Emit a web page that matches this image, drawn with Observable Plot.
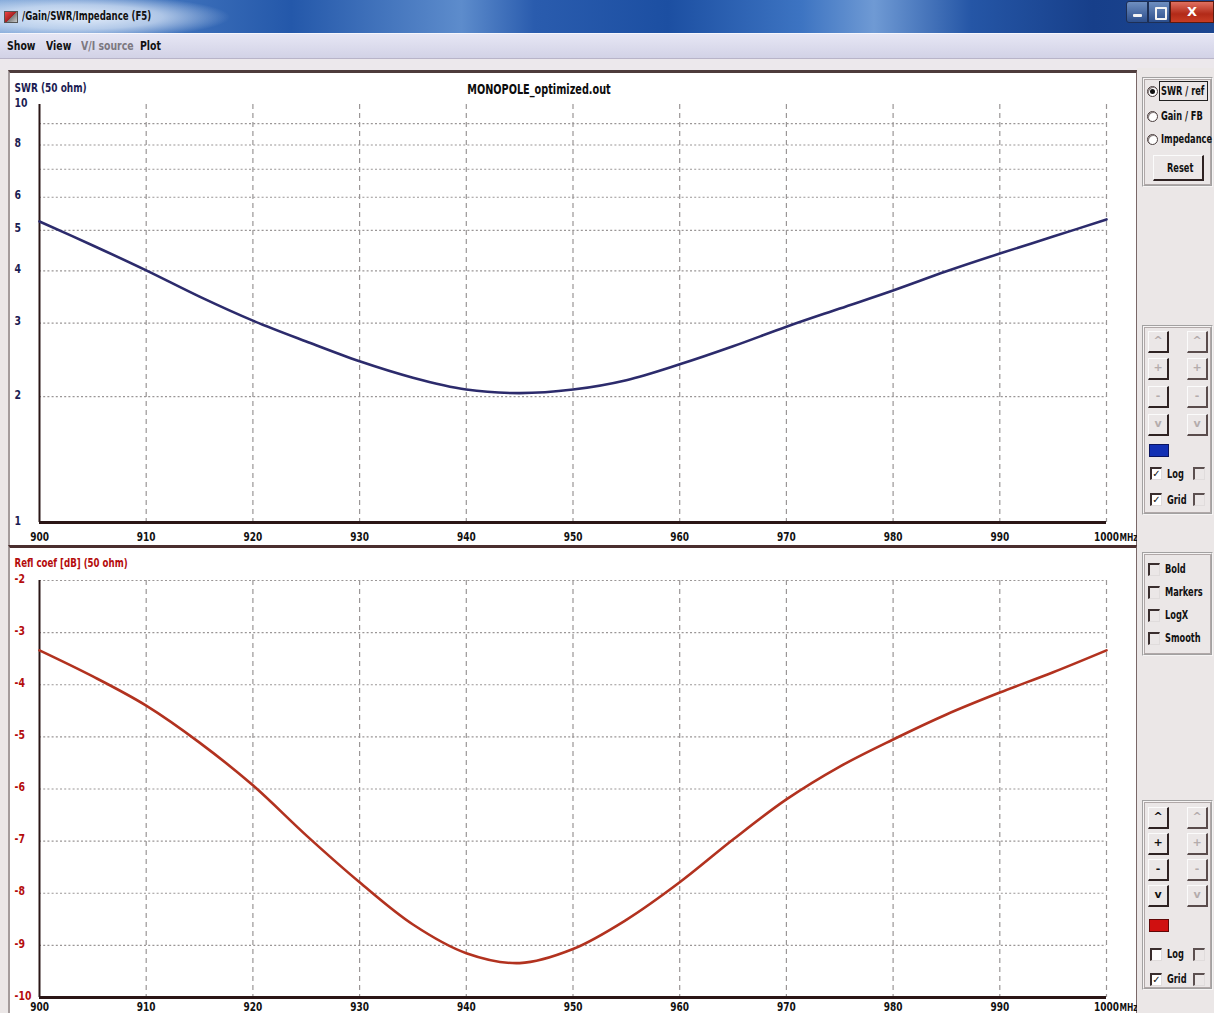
<!DOCTYPE html>
<html>
<head>
<meta charset="utf-8">
<script src="https://cdn.jsdelivr.net/npm/d3@7"></script>
<script src="https://cdn.jsdelivr.net/npm/@observablehq/plot@0.6"></script>
<style>
  * { box-sizing: border-box; }
  html, body { margin: 0; padding: 0; }
  body {
    width: 1214px; height: 1013px; overflow: hidden; position: relative;
    background: #ebe7e7;
    font-family: "DejaVu Sans", "Liberation Sans", sans-serif;
    font-weight: bold; font-size: 13px; color: #111;
  }
  .abs { position: absolute; }
  .nar { position: absolute; white-space: nowrap; transform: scaleX(0.72); transform-origin: 0 50%; }
  #side .nar { font-size: 12.5px; transform: scaleX(0.66); }
  #titlebar {
    left: 0; top: 0; width: 1214px; height: 33px;
    background:
      radial-gradient(ellipse 150px 22px at 80px 17px, rgba(235,242,252,0.95) 0%, rgba(220,232,248,0.7) 55%, rgba(200,220,245,0) 100%),
      linear-gradient(90deg, #7fa6d8 0%, #3f72bc 14%, #2458aa 24%, #5d8ccc 38%, #2a5cae 44%, #1c4fa2 55%, #3d74c2 66%, #6f9ad4 72%, #2556a6 80%, #173f8a 90%, #1c4690 100%);
  }
  #titlebar .icon {
    left: 4px; top: 11px; width: 14px; height: 12px;
    background: linear-gradient(135deg, #e44 0%, #a22 50%, #777 51%, #ccc 100%);
    border: 1px solid #555;
  }
  .winbtn { top: 1px; height: 22px; }
  #btnmin { left: 1126px; width: 22px; background: linear-gradient(#6f8fc0, #2c4e8c); border: 1px solid #1d2f55; border-radius: 3px 0 0 3px; }
  #btnmax { left: 1148px; width: 22px; background: linear-gradient(#6f8fc0, #2c4e8c); border: 1px solid #1d2f55; }
  #btnclose { left: 1170px; width: 44px; background: linear-gradient(#e07060, #b22a18 60%, #c83c24); border: 1px solid #5a1a10; color: #fff; text-align: center; font-size: 13px; line-height: 20px; }
  #btnmin::after { content: ""; position: absolute; left: 6px; top: 12px; width: 9px; height: 3px; background: #f4f4f4; border-radius: 1px; }
  #btnmax::after { content: ""; position: absolute; left: 6px; top: 5px; width: 8px; height: 9px; border: 2px solid #f4f4f4; border-radius: 1px; }
  #menubar {
    left: 0; top: 33px; width: 1214px; height: 26px;
    background: linear-gradient(#e6e6f4, #d2d2e6);
    border-top: 1px solid #f6f6fc; border-bottom: 1px solid #b8b4c8;
  }
  #gap { left: 0; top: 59px; width: 1214px; height: 11px; background: #ece8ec; }
  .chartpanel { background: #ffffff; }
  #toppanel { left: 8px; top: 70px; width: 1129px; height: 477px; border-top: 3px solid #4e3c3c; border-left: 2px solid #a49c9c; border-right: 1px solid #7a6868; }
  #botpanel { left: 8px; top: 545px; width: 1129px; height: 480px; border-top: 3px solid #4a2e2e; border-left: 2px solid #a49c9c; border-right: 1px solid #7a6868; }
  #side { left: 1137px; top: 68px; width: 77px; height: 945px; background: #ebe7e7; }
  .group { position: absolute; border: 2px groove #f6f4f4; box-shadow: inset 0 0 0 1px #b0a8a8; }
  .btn {
    position: absolute; width: 21px; height: 22px; background: #ebe7e7;
    border-top: 1px solid #fbfbfb; border-left: 1px solid #fbfbfb;
    border-right: 2px solid #2e2222; border-bottom: 2px solid #2e2222;
    text-align: center; line-height: 18px; font-size: 11px; color: #b4acac;
  }
  .btn.on { color: #101010; }
  .btn.faint { border-right-color: #5a4c4c; border-bottom-color: #5a4c4c; }
  .chk {
    position: absolute; width: 12px; height: 13px; background: #ffffff;
    border-top: 2px solid #3a2e2e; border-left: 2px solid #3a2e2e;
    border-right: 1px solid #e0dcdc; border-bottom: 1px solid #e0dcdc;
    font-family: "DejaVu Sans", sans-serif; font-size: 10px; line-height: 10px; text-align: center; color: #111;
  }
  .chk.dim { background: #ebe7e7; border-top-color: #5c5050; border-left-color: #5c5050; }
  .radio {
    position: absolute; width: 11px; height: 11px; border-radius: 50%;
    background: #fff; border: 1px solid #4a3e3e; box-shadow: inset 1px 1px 0 #8a8080;
  }
  .radio.sel::after { content: ""; position: absolute; left: 2px; top: 2px; width: 5px; height: 5px; border-radius: 50%; background: #111; }
  .chart { position: absolute; }
</style>
</head>
<body>

<div id="titlebar" class="abs">
  <div class="icon abs"></div>
  <div class="nar" style="left:22px;top:8px;font-size:13px;color:#101010;transform:scaleX(0.66)">/Gain/SWR/Impedance (F5)</div>
  <div id="btnmin" class="abs winbtn"></div>
  <div id="btnmax" class="abs winbtn"></div>
  <div id="btnclose" class="abs winbtn">X</div>
</div>
<div id="menubar" class="abs">
  <div class="nar" style="left:7px;top:4px">Show</div>
  <div class="nar" style="left:46px;top:4px">View</div>
  <div class="nar" style="left:81px;top:4px;color:#7c7880">V/I source</div>
  <div class="nar" style="left:140px;top:4px">Plot</div>
</div>
<div id="gap" class="abs"></div>

<div id="toppanel" class="abs chartpanel"></div>
<div id="botpanel" class="abs chartpanel"></div>
<div id="topchart" class="chart" style="left:9px;top:72px"></div>
<div id="botchart" class="chart" style="left:9px;top:549px"></div>

<div id="side" class="abs">
  <!-- plot type selector -->
  <div class="group" style="left:5px;top:9px;width:71px;height:110px"></div>
  <div class="radio sel" style="left:10px;top:18px"></div>
  <div class="abs" style="left:22px;top:13px;width:49px;height:20px;border:1px solid #222"></div>
  <div class="nar" style="left:24px;top:15px">SWR / ref</div>
  <div class="radio" style="left:10px;top:43px"></div>
  <div class="nar" style="left:24px;top:40px">Gain / FB</div>
  <div class="radio" style="left:10px;top:66px"></div>
  <div class="nar" style="left:24px;top:63px">Impedance</div>
  <div class="btn" style="left:16px;top:87px;width:51px;height:26px"></div>
  <div class="nar" style="left:30px;top:92px">Reset</div>

  <!-- upper chart scale controls -->
  <div class="group" style="left:5px;top:257px;width:71px;height:190px"></div>
  <div class="btn" style="left:11px;top:263px">^</div>
  <div class="btn faint" style="left:50px;top:263px">^</div>
  <div class="btn" style="left:11px;top:290px">+</div>
  <div class="btn faint" style="left:50px;top:290px">+</div>
  <div class="btn" style="left:11px;top:318px">-</div>
  <div class="btn faint" style="left:50px;top:318px">-</div>
  <div class="btn" style="left:11px;top:346px">v</div>
  <div class="btn faint" style="left:50px;top:346px">v</div>
  <div class="abs" style="left:12px;top:376px;width:20px;height:13px;background:#1230b4;border:1px solid #0a1460"></div>
  <div class="chk" style="left:13px;top:399px">✓</div>
  <div class="nar" style="left:30px;top:398px">Log</div>
  <div class="chk dim" style="left:56px;top:399px"></div>
  <div class="chk" style="left:13px;top:425px">✓</div>
  <div class="nar" style="left:30px;top:424px">Grid</div>
  <div class="chk dim" style="left:56px;top:425px"></div>

  <!-- line options -->
  <div class="group" style="left:5px;top:484px;width:71px;height:104px"></div>
  <div class="chk" style="left:11px;top:495px;background:#ebe7e7"></div>
  <div class="nar" style="left:28px;top:493px">Bold</div>
  <div class="chk" style="left:11px;top:518px;background:#ebe7e7"></div>
  <div class="nar" style="left:28px;top:516px">Markers</div>
  <div class="chk" style="left:11px;top:541px;background:#ebe7e7"></div>
  <div class="nar" style="left:28px;top:539px">LogX</div>
  <div class="chk" style="left:11px;top:564px;background:#ebe7e7"></div>
  <div class="nar" style="left:28px;top:562px">Smooth</div>

  <!-- lower chart scale controls -->
  <div class="group" style="left:5px;top:732px;width:71px;height:190px"></div>
  <div class="btn on" style="left:11px;top:739px">^</div>
  <div class="btn faint" style="left:50px;top:739px">^</div>
  <div class="btn on" style="left:11px;top:765px">+</div>
  <div class="btn faint" style="left:50px;top:765px">+</div>
  <div class="btn on" style="left:11px;top:791px">-</div>
  <div class="btn faint" style="left:50px;top:791px">-</div>
  <div class="btn on" style="left:11px;top:817px">v</div>
  <div class="btn faint" style="left:50px;top:817px">v</div>
  <div class="abs" style="left:12px;top:851px;width:20px;height:13px;background:#d01010;border:1px solid #600808"></div>
  <div class="chk" style="left:13px;top:880px"></div>
  <div class="nar" style="left:30px;top:878px">Log</div>
  <div class="chk dim" style="left:56px;top:880px"></div>
  <div class="chk" style="left:13px;top:905px">✓</div>
  <div class="nar" style="left:30px;top:903px">Grid</div>
  <div class="chk dim" style="left:56px;top:905px"></div>
</div>

<script>
// Frequency sweep (MHz) and the two computed responses
const freqMHz = [900, 905, 910, 915, 920, 925, 930, 935, 940, 945, 950,
                 955, 960, 965, 970, 975, 980, 985, 990, 995, 1000];
const swrValues = [5.25, 4.60, 4.01, 3.47, 3.04, 2.71, 2.43, 2.22, 2.08, 2.04, 2.08,
                   2.19, 2.39, 2.64, 2.94, 3.25, 3.59, 3.99, 4.40, 4.83, 5.31];
const reflDb = [-3.34, -3.84, -4.40, -5.11, -5.93, -6.89, -7.79, -8.60, -9.15, -9.34, -9.07,
                -8.51, -7.79, -6.97, -6.20, -5.57, -5.05, -4.57, -4.15, -3.76, -3.34];

// Axis ticks and grid levels
const freqTicks = [900, 910, 920, 930, 940, 950, 960, 970, 980, 990, 1000];
const freqUnit = "MHz";
const swrTickLabels = [1, 2, 3, 4, 5, 6, 8, 10];
const swrGridLevels = [2, 3, 4, 5, 6, 7, 8, 9];
const reflTicks = [-2, -3, -4, -5, -6, -7, -8, -9, -10];
const reflGridLevels = [-2, -3, -4, -5, -6, -7, -8, -9];

const plotTitle = "MONOPOLE_optimized.out";
const swrLabel = "SWR (50 ohm)";
const reflLabel = "Refl coef [dB] (50 ohm)";

const font = "'DejaVu Sans', 'Liberation Sans', sans-serif";
const axisInk = "#2a1616";
const gridInk = "#9a9696";
const narrow = 0.72; // horizontal squeeze that gives the narrow dialog lettering

const swrRows = freqMHz.map((f, i) => ({f, v: swrValues[i]}));
const reflRows = freqMHz.map((f, i) => ({f, v: reflDb[i]}));

// frequency tick labels, with the unit trailing the last one
function freqLabels(dy) {
  const last = freqTicks[freqTicks.length - 1];
  return [
    Plot.text(freqTicks, {x: d => d, text: d => String(d), frameAnchor: "bottom", dy,
      fill: "#111", fontSize: 12.5, fontWeight: "bold", fontFamily: font}),
    Plot.text([last], {x: d => d, text: () => freqUnit, frameAnchor: "bottom", dy, dx: 13,
      textAnchor: "start", fill: "#111", fontSize: 10.5, fontWeight: "bold", fontFamily: font})
  ];
}

// squeeze every label horizontally about its own anchor
function condense(svg) {
  svg.querySelectorAll("text").forEach(t => {
    const tr = t.getAttribute("transform") || "";
    t.setAttribute("transform", `${tr} scale(${narrow},1)`);
  });
  return svg;
}

const common = {
  width: 1127,
  height: 474,
  marginLeft: 30,
  marginRight: 30,
  style: {background: "transparent", fontFamily: font, overflow: "visible"}
};

// Upper chart: SWR on a logarithmic scale
const swrChart = Plot.plot({
  ...common,
  marginTop: 32,
  marginBottom: 24,
  x: {domain: [900, 1000], axis: null},
  y: {type: "log", domain: [1, 10], axis: null},
  marks: [
    Plot.gridY(swrGridLevels, {stroke: gridInk, strokeOpacity: 1, strokeWidth: 1.2, strokeDasharray: "2,2.2"}),
    Plot.gridX(freqTicks.slice(1), {stroke: gridInk, strokeOpacity: 1, strokeWidth: 1.2, strokeDasharray: "5,4"}),
    Plot.ruleX([900], {stroke: axisInk, strokeWidth: 2}),
    Plot.ruleY([1], {stroke: axisInk, strokeWidth: 3}),
    Plot.line(swrRows, {x: "f", y: "v", stroke: "#2c2b6c", strokeWidth: 2.6, curve: "catmull-rom"}),
    Plot.text(swrTickLabels, {y: d => d, text: d => String(d), frameAnchor: "left", dx: -25, dy: -2,
      textAnchor: "start", fill: "#1c1c52", fontSize: 13, fontWeight: "bold", fontFamily: font}),
    Plot.text([swrLabel], {frameAnchor: "top-left", dx: -25, dy: -21, textAnchor: "start",
      fill: "#1c1c52", fontSize: 12.5, fontWeight: "bold", fontFamily: font}),
    Plot.text([plotTitle], {frameAnchor: "top", dx: -34, dy: -20,
      fill: "#0c0c0c", fontSize: 13.5, fontWeight: "bold", fontFamily: font}),
    ...freqLabels(18)
  ]
});
document.getElementById("topchart").append(condense(swrChart));

// Lower chart: reflection coefficient in dB
const reflChart = Plot.plot({
  ...common,
  marginTop: 31,
  marginBottom: 26,
  x: {domain: [900, 1000], axis: null},
  y: {domain: [-10, -2], axis: null},
  marks: [
    Plot.gridY(reflGridLevels, {stroke: gridInk, strokeOpacity: 1, strokeWidth: 1.2, strokeDasharray: "2,2.2"}),
    Plot.gridX(freqTicks.slice(1), {stroke: gridInk, strokeOpacity: 1, strokeWidth: 1.2, strokeDasharray: "5,4"}),
    Plot.ruleX([900], {stroke: axisInk, strokeWidth: 2}),
    Plot.ruleY([-10], {stroke: axisInk, strokeWidth: 3}),
    Plot.line(reflRows, {x: "f", y: "v", stroke: "#b2321f", strokeWidth: 2.6, curve: "catmull-rom"}),
    Plot.text(reflTicks, {y: d => d, text: d => String(d), frameAnchor: "left", dx: -25, dy: -2,
      textAnchor: "start", fill: "#b40c0c", fontSize: 13, fontWeight: "bold", fontFamily: font}),
    Plot.text([reflLabel], {frameAnchor: "top-left", dx: -25, dy: -22, textAnchor: "start",
      fill: "#b40c0c", fontSize: 12, fontWeight: "bold", fontFamily: font}),
    ...freqLabels(13)
  ]
});
document.getElementById("botchart").append(condense(reflChart));
</script>
</body>
</html>
